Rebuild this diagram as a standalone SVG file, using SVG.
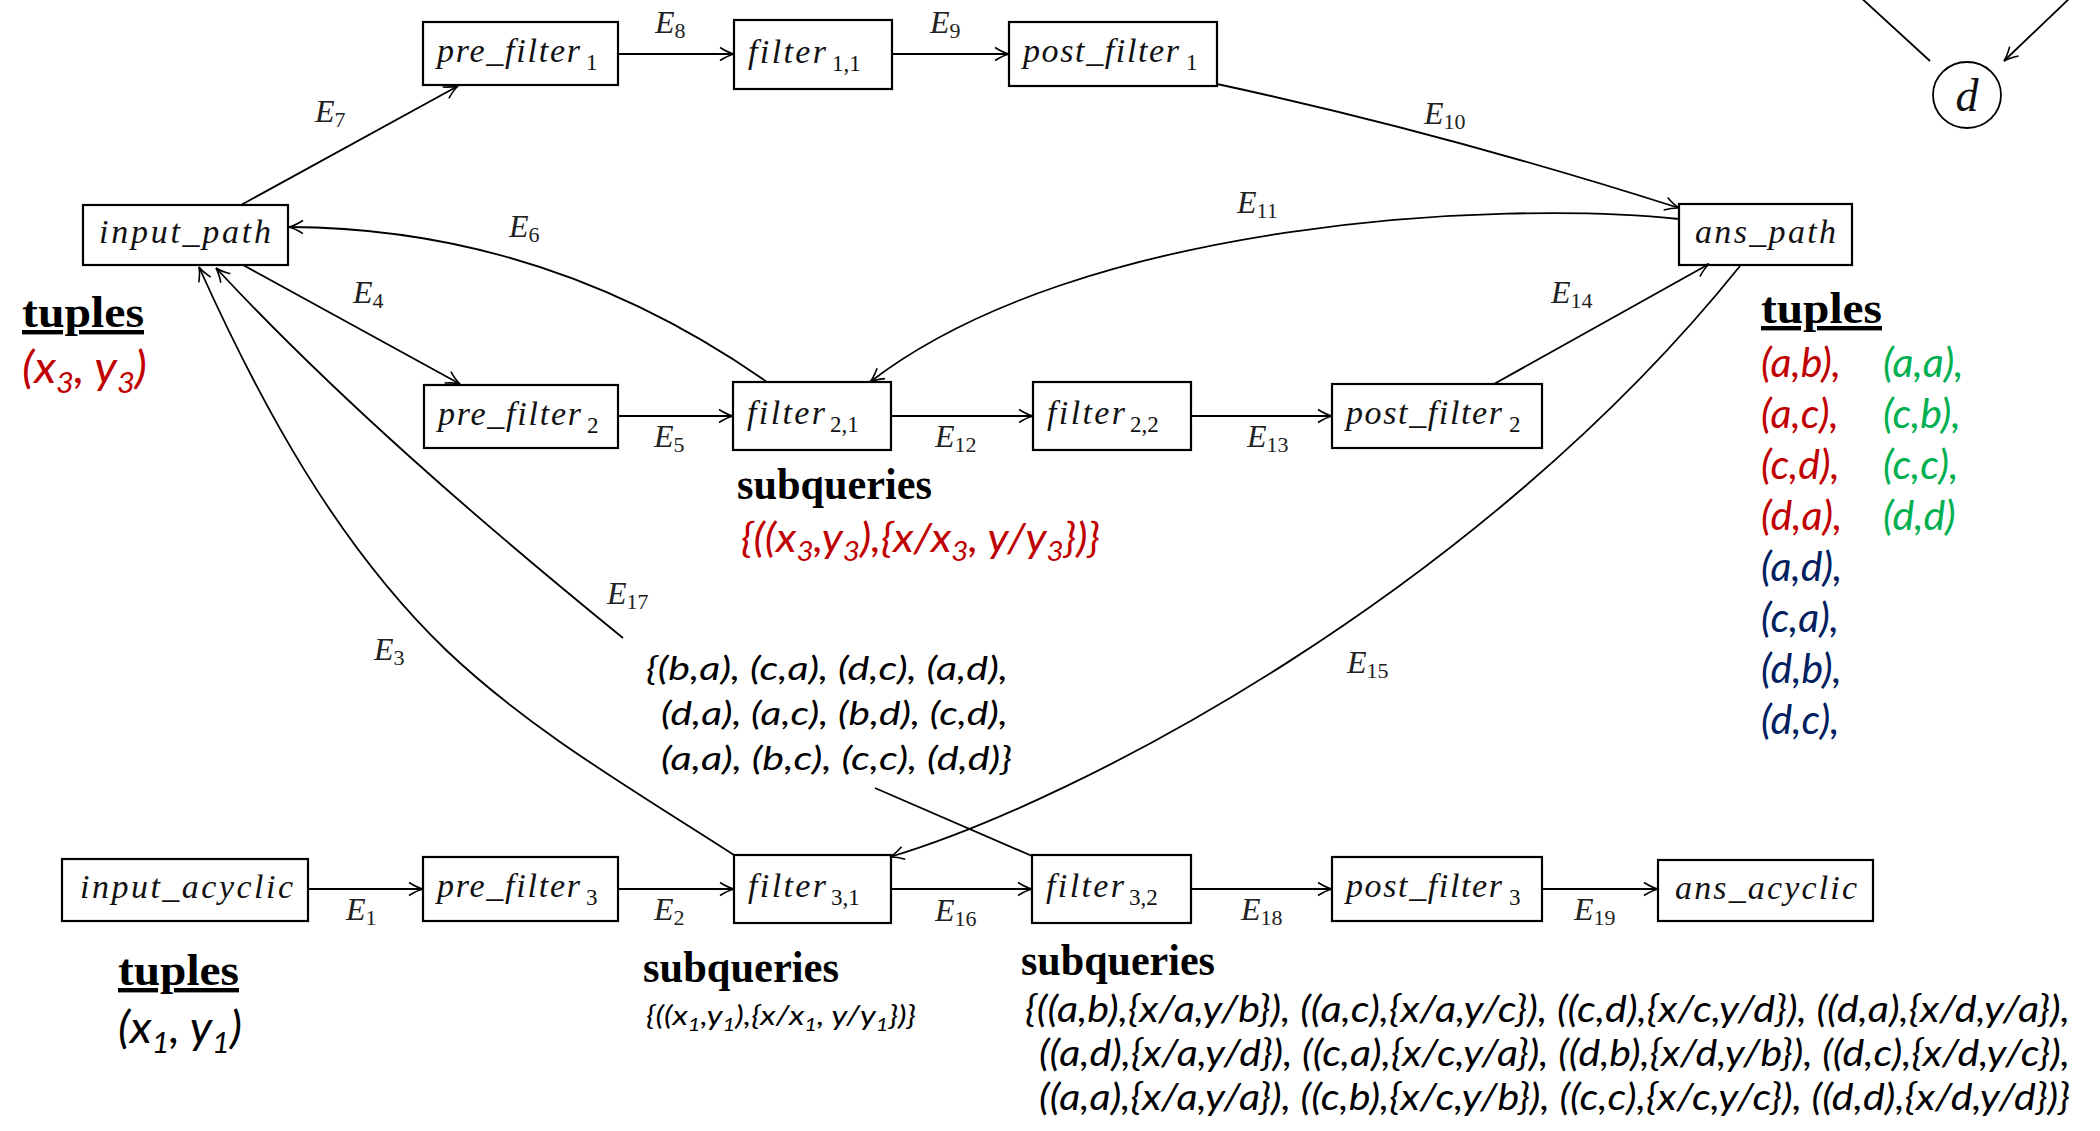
<svg xmlns="http://www.w3.org/2000/svg" width="2100" height="1131" viewBox="0 0 2100 1131">
<style>
.box{fill:#fff;stroke:#000;stroke-width:2.2}
.edge{fill:none;stroke:#000;stroke-width:1.8}
.lbl{font-family:"Liberation Serif","DejaVu Serif",serif;font-style:italic;font-size:34px;fill:#111}
.sub{font-family:"Liberation Serif","DejaVu Serif",serif;font-size:23px;fill:#111}
.el{font-family:"Liberation Serif","DejaVu Serif",serif;font-style:italic;font-size:32px;fill:#222}
.es{font-style:normal;font-size:22px}
.hd{font-family:"Liberation Serif","DejaVu Serif",serif;font-weight:bold;font-size:44px;fill:#000}
.ul{text-decoration:underline}
.tp{font-family:Lato,"Open Sans","DejaVu Sans",sans-serif;font-style:italic;fill:#000}
.red{fill:#c00000}.grn{fill:#00b050}.blu{fill:#002060}
</style>
<defs>
<marker id="arr" viewBox="-16 -9 18 18" refX="0" refY="0" markerWidth="18" markerHeight="18" orient="auto" markerUnits="userSpaceOnUse">
<path d="M-14,-6.5 Q-6,-1.5 0,0 Q-6,1.5 -14,6.5" fill="none" stroke="#000" stroke-width="1.6"/>
</marker>
</defs>
<rect width="2100" height="1131" fill="#fff"/>

<g id="n-pre_filter1"><rect class="box" x="423" y="22" width="195" height="63"/><text class="lbl" x="437" y="61.5" textLength="143">pre_filter</text><text class="sub" x="586" y="69.5">1</text></g>
<g id="n-filter11"><rect class="box" x="734" y="20" width="158" height="69"/><text class="lbl" x="748" y="62.5" textLength="78">filter</text><text class="sub" x="832" y="70.5">1,1</text></g>
<g id="n-post_filter1"><rect class="box" x="1009" y="22" width="208" height="64"/><text class="lbl" x="1023" y="62" textLength="156">post_filter</text><text class="sub" x="1186" y="70">1</text></g>
<g id="n-input_path"><rect class="box" x="83" y="205" width="205" height="60"/><text class="lbl" x="99" y="243" textLength="172">input_path</text></g>
<g id="n-ans_path"><rect class="box" x="1679" y="204" width="173" height="61"/><text class="lbl" x="1695" y="242.5" textLength="141">ans_path</text></g>
<g id="n-pre_filter2"><rect class="box" x="424" y="385" width="194" height="63"/><text class="lbl" x="438" y="424.5" textLength="143">pre_filter</text><text class="sub" x="587" y="432.5">2</text></g>
<g id="n-filter21"><rect class="box" x="733" y="382" width="158" height="68"/><text class="lbl" x="747" y="424" textLength="78">filter</text><text class="sub" x="830" y="432">2,1</text></g>
<g id="n-filter22"><rect class="box" x="1033" y="382" width="158" height="68"/><text class="lbl" x="1047" y="424" textLength="78">filter</text><text class="sub" x="1130" y="432">2,2</text></g>
<g id="n-post_filter2"><rect class="box" x="1332" y="384" width="210" height="64"/><text class="lbl" x="1346" y="424" textLength="156">post_filter</text><text class="sub" x="1509" y="432">2</text></g>
<g id="n-input_acyclic"><rect class="box" x="62" y="859" width="246" height="62"/><text class="lbl" x="80" y="898" textLength="213">input_acyclic</text></g>
<g id="n-pre_filter3"><rect class="box" x="423" y="857" width="195" height="64"/><text class="lbl" x="437" y="897" textLength="143">pre_filter</text><text class="sub" x="586" y="905">3</text></g>
<g id="n-filter31"><rect class="box" x="734" y="855" width="157" height="68"/><text class="lbl" x="748" y="897" textLength="78">filter</text><text class="sub" x="831" y="905">3,1</text></g>
<g id="n-filter32"><rect class="box" x="1032" y="855" width="159" height="68"/><text class="lbl" x="1046" y="897" textLength="78">filter</text><text class="sub" x="1129" y="905">3,2</text></g>
<g id="n-post_filter3"><rect class="box" x="1332" y="857" width="210" height="64"/><text class="lbl" x="1346" y="897" textLength="156">post_filter</text><text class="sub" x="1509" y="905">3</text></g>
<g id="n-ans_acyclic"><rect class="box" x="1658" y="860" width="215" height="61"/><text class="lbl" x="1675" y="898.5" textLength="182">ans_acyclic</text></g>
<g id="n-d"><ellipse cx="1967" cy="95" rx="34" ry="33" fill="#fff" stroke="#000" stroke-width="1.8"/><text class="lbl" x="1967" y="111" text-anchor="middle" style="font-size:46px">d</text></g>

<g id="connectors">
<path class="edge" marker-end="url(#arr)" d="M618,54 L734,54"/>
<path class="edge" marker-end="url(#arr)" d="M892,54 L1009,54"/>
<path class="edge" marker-end="url(#arr)" d="M618,416 L733,416"/>
<path class="edge" marker-end="url(#arr)" d="M891,416 L1033,416"/>
<path class="edge" marker-end="url(#arr)" d="M1191,416 L1332,416"/>
<path class="edge" marker-end="url(#arr)" d="M308,889 L423,889"/>
<path class="edge" marker-end="url(#arr)" d="M618,889 L734,889"/>
<path class="edge" marker-end="url(#arr)" d="M891,889 L1032,889"/>
<path class="edge" marker-end="url(#arr)" d="M1191,889 L1332,889"/>
<path class="edge" marker-end="url(#arr)" d="M1542,889 L1658,889"/>
<path class="edge" marker-end="url(#arr)" d="M241,205 L458,86"/>
<path class="edge" marker-end="url(#arr)" d="M243,265 L460,384"/>
<path class="edge" marker-end="url(#arr)" d="M767,382 Q547,228 289,227"/>
<path class="edge" marker-end="url(#arr)" d="M1217,84 Q1440,132 1679,208"/>
<path class="edge" marker-end="url(#arr)" d="M1679,219 C1500,200 1080,220 870,382"/>
<path class="edge" marker-end="url(#arr)" d="M1494,384 L1709,264"/>
<path class="edge" marker-end="url(#arr)" d="M1740,266 C1480,590 1080,800 890,857"/>
<path class="edge" marker-end="url(#arr)" d="M734,855 C635,791 531,731 446,650 C337,545 261,405 199,267"/>
<path class="edge" marker-end="url(#arr)" d="M623,638 C484,525 338,399 216,268"/>
<path class="edge" d="M1032,856 L875,788"/>
<path class="edge" d="M1858,-5 L1930,61"/>
<path class="edge" marker-end="url(#arr)" d="M2072,-4 L2004,61"/>
</g>

<g id="edge-labels">
<text class="el" x="655" y="33">E<tspan class="es" dy="5">8</tspan></text>
<text class="el" x="930" y="33">E<tspan class="es" dy="5">9</tspan></text>
<text class="el" x="315" y="122">E<tspan class="es" dy="5">7</tspan></text>
<text class="el" x="509" y="237">E<tspan class="es" dy="5">6</tspan></text>
<text class="el" x="353" y="303">E<tspan class="es" dy="5">4</tspan></text>
<text class="el" x="1424" y="124">E<tspan class="es" dy="5">10</tspan></text>
<text class="el" x="1237" y="213">E<tspan class="es" dy="5">11</tspan></text>
<text class="el" x="1551" y="303">E<tspan class="es" dy="5">14</tspan></text>
<text class="el" x="654" y="447">E<tspan class="es" dy="5">5</tspan></text>
<text class="el" x="935" y="447">E<tspan class="es" dy="5">12</tspan></text>
<text class="el" x="1247" y="447">E<tspan class="es" dy="5">13</tspan></text>
<text class="el" x="607" y="604">E<tspan class="es" dy="5">17</tspan></text>
<text class="el" x="374" y="660">E<tspan class="es" dy="5">3</tspan></text>
<text class="el" x="1347" y="673">E<tspan class="es" dy="5">15</tspan></text>
<text class="el" x="346" y="920">E<tspan class="es" dy="5">1</tspan></text>
<text class="el" x="654" y="920">E<tspan class="es" dy="5">2</tspan></text>
<text class="el" x="935" y="921">E<tspan class="es" dy="5">16</tspan></text>
<text class="el" x="1241" y="920">E<tspan class="es" dy="5">18</tspan></text>
<text class="el" x="1574" y="920">E<tspan class="es" dy="5">19</tspan></text>
</g>

<g id="annotations">
<text class="hd ul" x="22" y="327" textLength="122" lengthAdjust="spacingAndGlyphs">tuples</text>
<text class="tp red" x="22" y="383" style="font-size:44px" textLength="125" lengthAdjust="spacingAndGlyphs">(x<tspan dy="10" style="font-size:29px">3</tspan><tspan dy="-10">, y</tspan><tspan dy="10" style="font-size:29px">3</tspan><tspan dy="-10">)</tspan></text>

<text class="hd ul" x="1761" y="323" textLength="121" lengthAdjust="spacingAndGlyphs">tuples</text>
<g style="font-size:41px">
<text class="tp red" x="1761" y="377">(a,b),</text>
<text class="tp red" x="1761" y="428">(a,c),</text>
<text class="tp red" x="1761" y="479">(c,d),</text>
<text class="tp red" x="1761" y="530">(d,a),</text>
<text class="tp blu" x="1761" y="581">(a,d),</text>
<text class="tp blu" x="1761" y="632">(c,a),</text>
<text class="tp blu" x="1761" y="683">(d,b),</text>
<text class="tp blu" x="1761" y="734">(d,c),</text>
<text class="tp grn" x="1883" y="377">(a,a),</text>
<text class="tp grn" x="1883" y="428">(c,b),</text>
<text class="tp grn" x="1883" y="479">(c,c),</text>
<text class="tp grn" x="1883" y="530">(d,d)</text>
</g>

<text class="hd" x="737" y="499" textLength="195" lengthAdjust="spacingAndGlyphs">subqueries</text>
<text class="tp red" x="741" y="552" style="font-size:40px" textLength="359" lengthAdjust="spacingAndGlyphs">{((x<tspan dy="9" style="font-size:27px">3</tspan><tspan dy="-9">,y</tspan><tspan dy="9" style="font-size:27px">3</tspan><tspan dy="-9">),{x/x</tspan><tspan dy="9" style="font-size:27px">3</tspan><tspan dy="-9">, y/y</tspan><tspan dy="9" style="font-size:27px">3</tspan><tspan dy="-9">})}</tspan></text>

<g style="font-size:32px">
<text class="tp" x="646" y="680" textLength="362" lengthAdjust="spacingAndGlyphs">{(b,a), (c,a), (d,c), (a,d),</text>
<text class="tp" x="661" y="725" textLength="347" lengthAdjust="spacingAndGlyphs">(d,a), (a,c), (b,d), (c,d),</text>
<text class="tp" x="661" y="770" textLength="351" lengthAdjust="spacingAndGlyphs">(a,a), (b,c), (c,c), (d,d)}</text>
</g>

<text class="hd ul" x="118" y="985" textLength="121" lengthAdjust="spacingAndGlyphs">tuples</text>
<text class="tp" x="118" y="1043" style="font-size:44px" textLength="124" lengthAdjust="spacingAndGlyphs">(x<tspan dy="10" style="font-size:29px">1</tspan><tspan dy="-10">, y</tspan><tspan dy="10" style="font-size:29px">1</tspan><tspan dy="-10">)</tspan></text>

<text class="hd" x="643" y="982" textLength="196" lengthAdjust="spacingAndGlyphs">subqueries</text>
<text class="tp" x="646" y="1025" style="font-size:27px" textLength="270" lengthAdjust="spacingAndGlyphs">{((x<tspan dy="6" style="font-size:18px">1</tspan><tspan dy="-6">,y</tspan><tspan dy="6" style="font-size:18px">1</tspan><tspan dy="-6">),{x/x</tspan><tspan dy="6" style="font-size:18px">1</tspan><tspan dy="-6">, y/y</tspan><tspan dy="6" style="font-size:18px">1</tspan><tspan dy="-6">})}</tspan></text>

<text class="hd" x="1021" y="975" textLength="194" lengthAdjust="spacingAndGlyphs">subqueries</text>
<g style="font-size:36px">
<text class="tp" x="1025" y="1022" textLength="1045" lengthAdjust="spacingAndGlyphs">{((a,b),{x/a,y/b}), ((a,c),{x/a,y/c}), ((c,d),{x/c,y/d}), ((d,a),{x/d,y/a}),</text>
<text class="tp" x="1039" y="1066" textLength="1031" lengthAdjust="spacingAndGlyphs">((a,d),{x/a,y/d}), ((c,a),{x/c,y/a}), ((d,b),{x/d,y/b}), ((d,c),{x/d,y/c}),</text>
<text class="tp" x="1039" y="1110" textLength="1031" lengthAdjust="spacingAndGlyphs">((a,a),{x/a,y/a}), ((c,b),{x/c,y/b}), ((c,c),{x/c,y/c}), ((d,d),{x/d,y/d})}</text>
</g>
</g>
</svg>
